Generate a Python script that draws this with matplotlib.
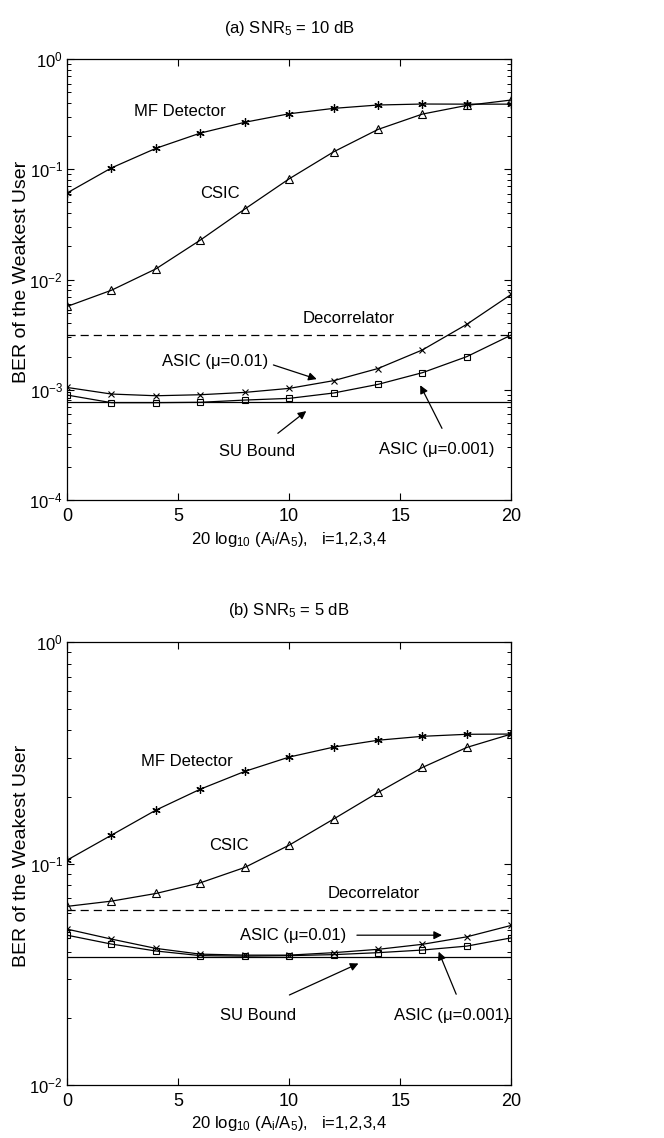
import matplotlib
matplotlib.use("Agg")
from matplotlib import pyplot as plt
from matplotlib.ticker import LogLocator, FixedLocator

plt.rcParams['font.family'] = ['Liberation Sans', 'DejaVu Sans']
plt.rcParams['mathtext.default'] = 'regular'
plt.rcParams['mathtext.fontset'] = 'custom'
plt.rcParams['mathtext.rm'] = 'Liberation Sans'
plt.rcParams['mathtext.it'] = 'Liberation Sans'

x = [0, 2, 4, 6, 8, 10, 12, 14, 16, 18, 20]

# (a) SNR5 = 10 dB
mf_a = [0.061, 0.103, 0.155, 0.213, 0.267, 0.319, 0.357, 0.383, 0.391, 0.39, 0.39]
csic_a = [0.0057, 0.0080, 0.0125, 0.0228, 0.0436, 0.082, 0.144, 0.230, 0.317, 0.38, 0.425]
asic01_a = [0.00105, 0.000915, 0.000883, 0.000902, 0.000947, 0.00103, 0.00121,
            0.00156, 0.0023, 0.00393, 0.00734]
asic001_a = [0.000896, 0.000764, 0.000764, 0.00077, 0.000807, 0.000836, 0.000935,
             0.00112, 0.00143, 0.0020, 0.00314]
decor_a = 0.00314
su_a = 0.000769

# (b) SNR5 = 5 dB
mf_b = [0.1037, 0.1345, 0.1745, 0.217, 0.261, 0.303, 0.336, 0.361, 0.376, 0.384, 0.385]
csic_b = [0.0641, 0.0677, 0.0733, 0.0819, 0.0961, 0.1212, 0.159, 0.2096, 0.272, 0.335, 0.385]
asic01_b = [0.0506, 0.0456, 0.0414, 0.039, 0.0386, 0.0386, 0.0396, 0.041, 0.0432, 0.0467, 0.0526]
asic001_b = [0.0475, 0.0433, 0.0403, 0.0384, 0.0382, 0.0384, 0.0388, 0.0396, 0.0407, 0.0424, 0.0462]
decor_b = 0.0617
su_b = 0.0380

fig = plt.figure(figsize=(6.64, 11.38), dpi=100)
ax1 = fig.add_axes([0.101, 0.5606, 0.669, 0.3875])
ax2 = fig.add_axes([0.101, 0.0466, 0.669, 0.389])

lw = 0.9
ms = 6


def draw_panel(ax, mf, csic, a01, a001, decor, su, ylim):
    ax.semilogy(x, mf, color='black', lw=lw, marker=(6, 2, 0), ms=ms, mew=0.9)
    ax.semilogy(x, csic, color='black', lw=lw, marker='^', ms=ms, mfc='none', mew=0.8)
    ax.semilogy(x, a01, color='black', lw=lw, marker='x', ms=ms - 1, mew=0.8)
    ax.semilogy(x, a001, color='black', lw=lw, marker='s', ms=ms - 1, mfc='none', mew=0.8)
    ax.axhline(decor, color='black', lw=lw, ls=(0, (6.5, 4)))
    ax.axhline(su, color='black', lw=lw)
    ax.set_xlim(0, 20)
    ax.set_ylim(*ylim)
    ax.xaxis.set_major_locator(FixedLocator([0, 5, 10, 15, 20]))
    ax.yaxis.set_major_locator(LogLocator(base=10, numticks=10))
    ax.yaxis.set_minor_locator(LogLocator(base=10, subs=range(2, 10), numticks=20))
    ax.tick_params(which='both', direction='in', top=True, right=True)
    ax.tick_params(which='major', length=5, width=0.8)
    ax.tick_params(which='minor', length=3, width=0.7)
    ax.tick_params(axis='x', pad=6, labelsize=13)
    ax.tick_params(axis='y', pad=3, labelsize=12)
    for s in ax.spines.values():
        s.set_linewidth(0.9)
    ax.set_ylabel('BER of the Weakest User', fontsize=14)
    ax.yaxis.set_label_coords(-0.083, 0.517)
    ax.set_xlabel(r'20 log$_{10}$ (A$_i$/A$_5$),   i=1,2,3,4', fontsize=12, labelpad=3)


fs = 12
arrow = dict(arrowstyle='-|>', color='black', lw=0.9, mutation_scale=12,
             shrinkA=0, shrinkB=0)

draw_panel(ax1, mf_a, csic_a, asic01_a, asic001_a, decor_a, su_a, (1e-4, 1))
ax1.set_title(r'(a) SNR$_5$ = 10 dB', fontsize=12, pad=19)
ax1.text(5.09, 0.337, 'MF Detector', fontsize=fs, ha='center', va='center')
ax1.text(6.89, 0.0605, 'CSIC', fontsize=fs, ha='center', va='center')
ax1.text(12.67, 0.00445, 'Decorrelator', fontsize=fs, ha='center', va='center')
ax1.text(6.67, 0.00182, 'ASIC (\u03bc=0.01)', fontsize=fs, ha='center', va='center')
ax1.text(8.55, 0.000274, 'SU Bound', fontsize=fs, ha='center', va='center')
ax1.text(16.65, 0.000288, 'ASIC (\u03bc=0.001)', fontsize=fs, ha='center', va='center')
ax1.annotate('', xy=(11.24, 0.00125), xytext=(9.29, 0.00168), arrowprops=arrow)
ax1.annotate('', xy=(10.77, 0.000641), xytext=(9.49, 0.000403), arrowprops=arrow)
ax1.annotate('', xy=(15.90, 0.0011), xytext=(16.88, 0.000447), arrowprops=arrow)

draw_panel(ax2, mf_b, csic_b, asic01_b, asic001_b, decor_b, su_b, (1e-2, 1))
ax2.set_title(r'(b) SNR$_5$ = 5 dB', fontsize=12, pad=19.5)
ax2.text(5.39, 0.290, 'MF Detector', fontsize=fs, ha='center', va='center')
ax2.text(7.27, 0.1212, 'CSIC', fontsize=fs, ha='center', va='center')
ax2.text(13.8, 0.0733, 'Decorrelator', fontsize=fs, ha='center', va='center')
ax2.text(10.19, 0.0475, 'ASIC (\u03bc=0.01)', fontsize=fs, ha='center', va='center')
ax2.text(8.62, 0.0207, 'SU Bound', fontsize=fs, ha='center', va='center')
ax2.text(17.33, 0.0207, 'ASIC (\u03bc=0.001)', fontsize=fs, ha='center', va='center')
ax2.annotate('', xy=(16.88, 0.0475), xytext=(13.05, 0.0475), arrowprops=arrow)
ax2.annotate('', xy=(13.12, 0.0354), xytext=(10.01, 0.0255), arrowprops=arrow)
ax2.annotate('', xy=(16.73, 0.040), xytext=(17.52, 0.0257), arrowprops=arrow)

fig.savefig('out.png', dpi=100)
